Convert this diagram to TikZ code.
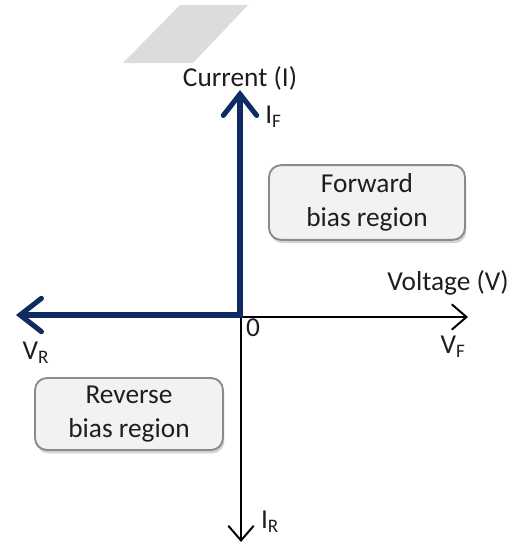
\documentclass[tikz,border=0pt]{standalone}
\usepackage{fontspec}
\setmainfont{Carlito}
\usetikzlibrary{arrows.meta,shadows}
\definecolor{navy}{HTML}{102A63}
\definecolor{boxfill}{HTML}{F2F2F2}
\definecolor{boxline}{HTML}{8A8A8A}
\definecolor{pgray}{HTML}{DCDCDC}
\definecolor{txt}{HTML}{1E1E1E}

\begin{document}
\begin{tikzpicture}[x=0.75pt, y=-0.75pt, every node/.style={font=\fontsize{20.5}{25}\selectfont, text=txt, inner sep=0pt},
	axis/.style={line width=1.5pt, -{Straight Barb[length=11pt, width=19pt]}},
	biasline/.style={navy, line width=3.8pt, line join=miter, {Straight Barb[length=16pt, width=25pt, line cap=round]}-{Straight Barb[length=16pt, width=25pt, line cap=round]}},
	regionbox/.style={draw=boxline, fill=boxfill, line width=1.4pt, rounded corners=9pt, align=center,
		drop shadow={shadow xshift=1pt, shadow yshift=-2.5pt, opacity=0.35}}]
	\useasboundingbox (0,0) rectangle (517,546);
	
	% 1. grey parallelogram at the top
	\fill[pgray] (123,63) -- (193,63) -- (248,5) -- (180,5) -- cycle;
	
	% 2. axis end points
	\coordinate (O) at (241,317);
	\coordinate (tipVF) at (468,317);
	\coordinate (tipIR) at (241,542);
	\coordinate (tipIF) at (240,90);
	\coordinate (tipVR) at (16,315);
	
	% 3. black axes
	\draw[axis] (O) -- (tipVF);
	\draw[axis] (O) -- (tipIR);
	
	% 4. diode curve (thick navy)
	\draw[biasline] (tipIF) |- (tipVR);
	
	% 5. labels
	\node (current) at (240,78) {Current (I)};
	\node[anchor=west] (IF) at (265,117) {I\textsubscript{F}};
	\node (volt) at (448,283) {Voltage (V)};
	\node (VF) at (453,347) {V\textsubscript{F}};
	\node (VR) at (36,353) {V\textsubscript{R}};
	\node (zero) at (253,328) {0};
	\node (IR) at (270,522) {I\textsubscript{R}};
	
	% 6. region boxes
	\node[regionbox, minimum width=147pt, minimum height=56pt] (fwdbox) at (367,202.5) {Forward\\bias region};
	\node[regionbox, minimum width=141pt, minimum height=54pt] (revbox) at (129,414) {Reverse\\bias region};
\end{tikzpicture}
\end{document}
